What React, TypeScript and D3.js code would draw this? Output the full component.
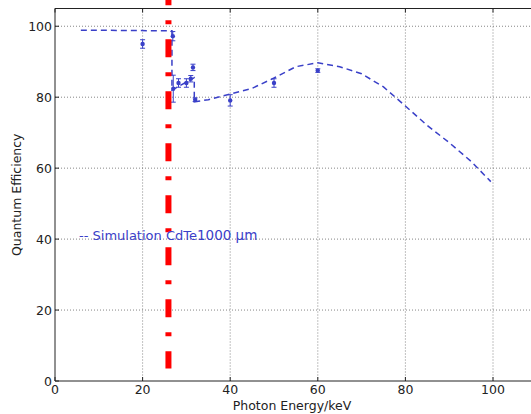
import React from "react";
import * as d3 from "d3";

// Simulation curve (CdTe 1000 µm)
const simEnergy = [5.9, 26.7, 26.7, 31.8, 31.8, 35, 40, 45, 50, 55, 60, 65, 70, 75, 80, 85, 90, 95, 99.5];
const simQE = [98.9, 98.7, 82.0, 85.5, 78.7, 79.3, 80.9, 82.5, 85.4, 88.6, 89.7, 88.6, 86.6, 82.9, 77.5, 72.0, 67.2, 61.9, 56.2];

// Measured points
const measEnergy = [20, 26.9, 27, 28.2, 30, 31, 31.5, 32, 40, 50, 60];
const measQE = [95.0, 97.2, 82.4, 84.0, 84.0, 85.2, 88.4, 79.3, 79.1, 84.0, 87.5];
const measErr = [1.2, 1.3, 3.8, 1.2, 1.2, 0.9, 0.9, 0.5, 1.6, 1.2, 0.5];

// Edge marker
const edgeEnergy = 25.9;
const edgeRange = [3.5, 111];

const xTicks = [0, 20, 40, 60, 80, 100];
const yTicks = [0, 20, 40, 60, 80, 100];
const xDomain = [0, 110];
const yDomain = [0, 105];

const xLabel = "Photon Energy/keV";
const yLabel = "Quantum Efficiency";
const legendA = "-- Simulation CdTe";
const legendB = "1000 µm";

const W = 531;
const H = 414;
const blue = "#3a40c8";
const font = "DejaVu Sans, sans-serif";

export default function App() {
  const x = d3.scaleLinear().domain(xDomain).range([55, 536.8]);
  const y = d3.scaleLinear().domain(yDomain).range([381, 8.5]);
  const left = x(0);
  const right = x(xDomain[1]);
  const bottom = y(0);
  const top = y(yDomain[1]);

  const simLine = d3
    .line<number>()
    .x((_, i) => x(simEnergy[i]))
    .y((d) => y(d));

  return (
    <svg
      width={W}
      height={H}
      style={{ position: "absolute", left: 0, top: 0, background: "#fff" }}
      fontFamily={font}
    >
      <rect x={0} y={0} width={W} height={H} fill="#fff" />
      {/* grid */}
      {xTicks.filter((t) => t > 0).map((t) => (
        <line key={"gx" + t} x1={x(t)} x2={x(t)} y1={top} y2={bottom}
          stroke="#666" strokeWidth={0.8} strokeDasharray="1,2" />
      ))}
      {yTicks.filter((t) => t > 0).map((t) => (
        <line key={"gy" + t} x1={left} x2={right} y1={y(t)} y2={y(t)}
          stroke="#666" strokeWidth={0.8} strokeDasharray="1,2" />
      ))}

      {/* simulation */}
      <path d={simLine(simQE) || ""} fill="none" stroke={blue} strokeWidth={1.5}
        strokeDasharray="6,4" />

      {/* measured points */}
      {measEnergy.map((e, i) => {
        const cx = x(e);
        const y1 = y(measQE[i] + measErr[i]);
        const y2 = y(measQE[i] - measErr[i]);
        return (
          <g key={"m" + i} stroke={blue} strokeWidth={1}>
            <line x1={cx} x2={cx} y1={y1} y2={y2} />
            <line x1={cx - 2.5} x2={cx + 2.5} y1={y1} y2={y1} />
            <line x1={cx - 2.5} x2={cx + 2.5} y1={y2} y2={y2} />
            <circle cx={cx} cy={y(measQE[i])} r={2.2} fill={blue} stroke="none" />
          </g>
        );
      })}

      {/* edge line */}
      <line x1={x(edgeEnergy)} x2={x(edgeEnergy)} y1={y(edgeRange[1])} y2={y(edgeRange[0])}
        stroke="#ff0000" strokeWidth={6} strokeDasharray="18,15,4,15" />

      {/* legend text */}
      <text x={79} y={240} fontSize={13} fill={blue}>
        {legendA}
        <tspan fontSize={13.5}>{legendB}</tspan>
      </text>

      {/* spines */}
      <line x1={left} x2={left} y1={top} y2={bottom} stroke="#222" strokeWidth={1} />
      <line x1={left} x2={right} y1={bottom} y2={bottom} stroke="#222" strokeWidth={1} />
      <line x1={left} x2={right} y1={top} y2={top} stroke="#222" strokeWidth={1} />
      <line x1={right} x2={right} y1={top} y2={bottom} stroke="#222" strokeWidth={1} />

      {/* ticks */}
      {xTicks.map((t) => (
        <g key={"xt" + t}>
          <line x1={x(t)} x2={x(t)} y1={bottom} y2={bottom - 4} stroke="#222" />
          <line x1={x(t)} x2={x(t)} y1={top} y2={top + 4} stroke="#222" />
          <text x={x(t)} y={394} textAnchor="middle" fontSize={12.5} fill="#222">{t}</text>
        </g>
      ))}
      {yTicks.map((t) => (
        <g key={"yt" + t}>
          <line x1={left} x2={left + 4} y1={y(t)} y2={y(t)} stroke="#222" />
          <text x={52} y={y(t)} dy="0.36em" textAnchor="end" fontSize={12.5} fill="#222">{t}</text>
        </g>
      ))}

      <text x={292} y={410} textAnchor="middle" fontSize={12.5} fill="#222">{xLabel}</text>
      <text transform={`translate(21,${(top + bottom) / 2}) rotate(-90)`} textAnchor="middle"
        fontSize={12.5} fill="#222">{yLabel}</text>
    </svg>
  );
}
